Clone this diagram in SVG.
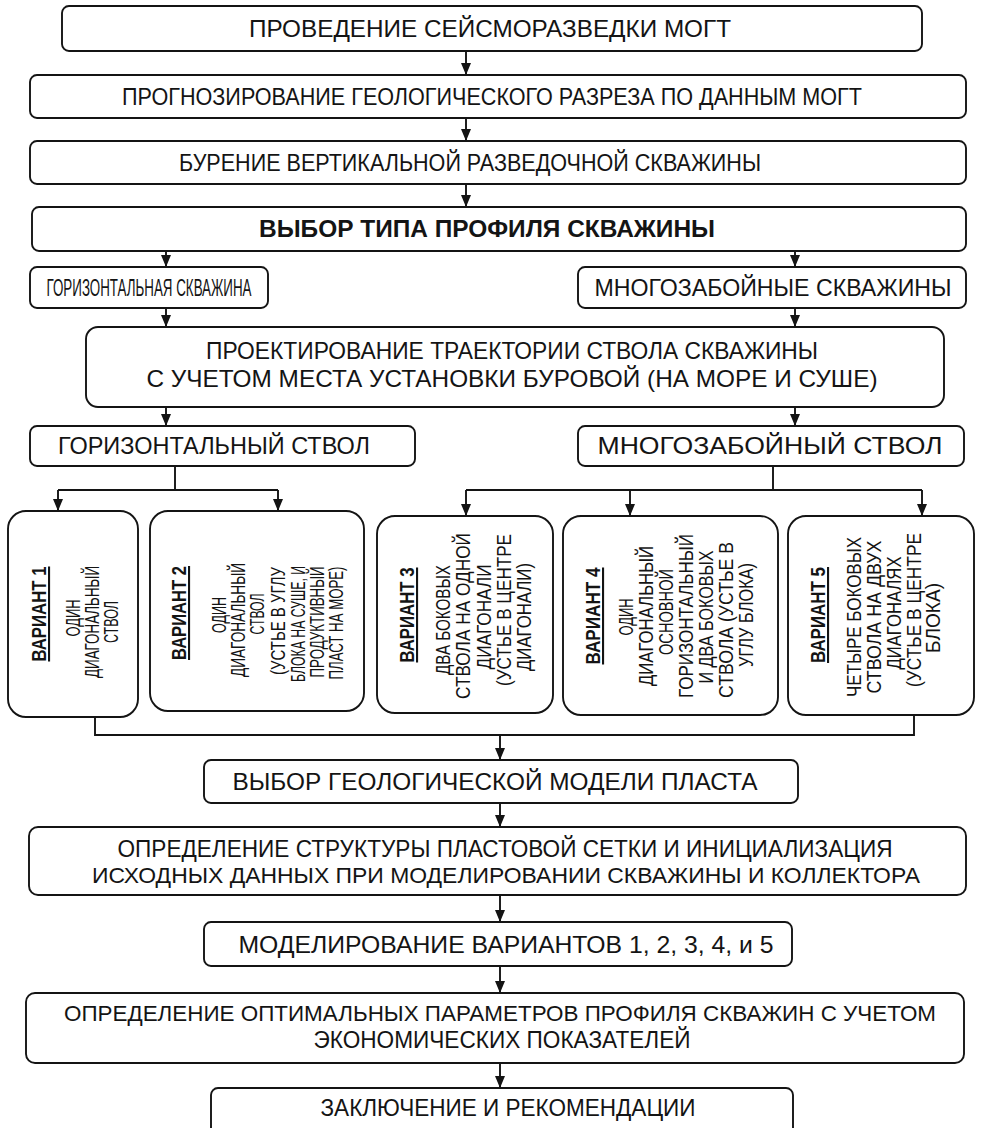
<svg xmlns="http://www.w3.org/2000/svg" width="983" height="1128" viewBox="0 0 983 1128">
<style>
.box{fill:#fff;stroke:#141414;stroke-width:1.9}
.ln{fill:none;stroke:#141414;stroke-width:1.9}
.ar{fill:none;stroke:#141414;stroke-width:1.9;marker-end:url(#ah)}
text{font-family:"Liberation Sans",Arial,sans-serif;fill:#141414;text-anchor:middle}
.t{font-size:24px}
.s{font-size:22px}
.v{font-size:21px}
.b{font-weight:bold}
.u{font-weight:bold;text-decoration:underline}
</style>
<defs>
<marker id="ah" viewBox="0 0 12 10" refX="12" refY="5" markerWidth="12" markerHeight="10" markerUnits="userSpaceOnUse" orient="auto">
<path d="M0,0 L12,5 L0,10 z" fill="#141414"/>
</marker>
</defs>
<rect width="983" height="1128" fill="#fff"/>

<g id="connectors">
<line class="ar" x1="466" y1="51" x2="466" y2="75"/>
<line class="ar" x1="466" y1="118" x2="466" y2="141"/>
<line class="ar" x1="466" y1="184" x2="466" y2="207"/>
<line class="ar" x1="166" y1="251" x2="166" y2="267"/>
<line class="ar" x1="795" y1="251" x2="795" y2="267"/>
<line class="ar" x1="166" y1="308" x2="166" y2="327"/>
<line class="ar" x1="795" y1="308" x2="795" y2="327"/>
<line class="ar" x1="166" y1="407" x2="166" y2="426"/>
<line class="ar" x1="795" y1="407" x2="795" y2="426"/>
<polyline class="ln" points="175,466 175,490"/>
<polyline class="ln" points="58,490 278,490"/>
<line class="ar" x1="58" y1="490" x2="58" y2="511"/>
<line class="ar" x1="278" y1="490" x2="278" y2="511"/>
<polyline class="ln" points="773,466 773,490"/>
<polyline class="ln" points="466,490 922,490"/>
<line class="ar" x1="466" y1="490" x2="466" y2="516"/>
<line class="ar" x1="630" y1="490" x2="630" y2="516"/>
<line class="ar" x1="922" y1="490" x2="922" y2="516"/>
<polyline class="ln" points="95,717 95,735 914,735 914,715"/>
<line class="ar" x1="500" y1="735" x2="500" y2="760"/>
<line class="ar" x1="500" y1="803" x2="500" y2="827"/>
<line class="ar" x1="500" y1="895" x2="500" y2="922"/>
<line class="ar" x1="500" y1="966" x2="500" y2="993"/>
<line class="ar" x1="500" y1="1063" x2="500" y2="1088"/>
</g>

<g id="n1"><rect class="box" x="62" y="6" width="860" height="45" rx="7"/>
<text class="t" x="490" y="37" textLength="482" lengthAdjust="spacingAndGlyphs">ПРОВЕДЕНИЕ СЕЙСМОРАЗВЕДКИ МОГТ</text></g>
<g id="n2"><rect class="box" x="30" y="75" width="936" height="43" rx="7"/>
<text class="t" x="492" y="105" textLength="740" lengthAdjust="spacingAndGlyphs">ПРОГНОЗИРОВАНИЕ ГЕОЛОГИЧЕСКОГО РАЗРЕЗА ПО ДАННЫМ МОГТ</text></g>
<g id="n3"><rect class="box" x="30" y="141" width="936" height="43" rx="7"/>
<text class="t" x="470" y="171" textLength="582" lengthAdjust="spacingAndGlyphs">БУРЕНИЕ ВЕРТИКАЛЬНОЙ РАЗВЕДОЧНОЙ СКВАЖИНЫ</text></g>
<g id="n4"><rect class="box" x="32" y="207" width="934" height="44" rx="7"/>
<text class="t b" x="487" y="237" textLength="456" lengthAdjust="spacingAndGlyphs">ВЫБОР ТИПА ПРОФИЛЯ СКВАЖИНЫ</text></g>
<g id="n5a"><rect class="box" x="30" y="267" width="238" height="41" rx="7"/>
<text class="t" x="149" y="296" textLength="205" lengthAdjust="spacingAndGlyphs">ГОРИЗОНТАЛЬНАЯ СКВАЖИНА</text></g>
<g id="n5b"><rect class="box" x="578" y="267" width="388" height="41" rx="7"/>
<text class="t" x="773" y="296" textLength="357" lengthAdjust="spacingAndGlyphs">МНОГОЗАБОЙНЫЕ СКВАЖИНЫ</text></g>
<g id="n6"><rect class="box" x="86" y="327" width="858" height="80" rx="12"/>
<text class="t" x="512" y="359" textLength="612" lengthAdjust="spacingAndGlyphs">ПРОЕКТИРОВАНИЕ ТРАЕКТОРИИ СТВОЛА СКВАЖИНЫ</text>
<text class="t" x="512" y="387" textLength="731" lengthAdjust="spacingAndGlyphs">С УЧЕТОМ МЕСТА УСТАНОВКИ БУРОВОЙ (НА МОРЕ И СУШЕ)</text></g>
<g id="n7a"><rect class="box" x="30" y="426" width="385" height="40" rx="7"/>
<text class="t" x="214" y="454" textLength="312" lengthAdjust="spacingAndGlyphs">ГОРИЗОНТАЛЬНЫЙ СТВОЛ</text></g>
<g id="n7b"><rect class="box" x="578" y="426" width="386" height="40" rx="7"/>
<text class="t" x="770" y="454" textLength="345" lengthAdjust="spacingAndGlyphs">МНОГОЗАБОЙНЫЙ СТВОЛ</text></g>

<g id="v1"><rect class="box" x="8" y="511" width="130" height="206" rx="18"/>
<text class="v u" transform="translate(46,614) rotate(-90)" textLength="95" lengthAdjust="spacingAndGlyphs">ВАРИАНТ 1</text>
<text class="v" transform="translate(80,618) rotate(-90)" textLength="37" lengthAdjust="spacingAndGlyphs">ОДИН</text>
<text class="v" transform="translate(99,622) rotate(-90)" textLength="112" lengthAdjust="spacingAndGlyphs">ДИАГОНАЛЬНЫЙ</text>
<text class="v" transform="translate(118,622) rotate(-90)" textLength="42" lengthAdjust="spacingAndGlyphs">СТВОЛ</text></g>

<g id="v2"><rect class="box" x="150" y="511" width="214" height="200" rx="18"/>
<text class="v u" transform="translate(186,613) rotate(-90)" textLength="94" lengthAdjust="spacingAndGlyphs">ВАРИАНТ 2</text>
<text class="v" transform="translate(226,615) rotate(-90)" textLength="36" lengthAdjust="spacingAndGlyphs">ОДИН</text>
<text class="v" transform="translate(245,620) rotate(-90)" textLength="114" lengthAdjust="spacingAndGlyphs">ДИАГОНАЛЬНЫЙ</text>
<text class="v" transform="translate(264,614) rotate(-90)" textLength="41" lengthAdjust="spacingAndGlyphs">СТВОЛ</text>
<text class="v" transform="translate(285,621) rotate(-90)" textLength="108" lengthAdjust="spacingAndGlyphs">(УСТЬЕ В УГЛУ</text>
<text class="v" transform="translate(305,624) rotate(-90)" textLength="116" lengthAdjust="spacingAndGlyphs">БЛОКА НА СУШЕ, И</text>
<text class="v" transform="translate(324,622) rotate(-90)" textLength="111" lengthAdjust="spacingAndGlyphs">ПРОДУКТИВНЫЙ</text>
<text class="v" transform="translate(343,623) rotate(-90)" textLength="113" lengthAdjust="spacingAndGlyphs">ПЛАСТ НА МОРЕ)</text></g>

<g id="v3"><rect class="box" x="377" y="516" width="176" height="197" rx="18"/>
<text class="v u" transform="translate(414,615) rotate(-90)" textLength="95" lengthAdjust="spacingAndGlyphs">ВАРИАНТ 3</text>
<text class="v" transform="translate(450,620) rotate(-90)" textLength="110" lengthAdjust="spacingAndGlyphs">ДВА БОКОВЫХ</text>
<text class="v" transform="translate(470,616) rotate(-90)" textLength="166" lengthAdjust="spacingAndGlyphs">СТВОЛА НА ОДНОЙ</text>
<text class="v" transform="translate(491,617) rotate(-90)" textLength="105" lengthAdjust="spacingAndGlyphs">ДИАГОНАЛИ</text>
<text class="v" transform="translate(511,610) rotate(-90)" textLength="152" lengthAdjust="spacingAndGlyphs">(УСТЬЕ В ЦЕНТРЕ</text>
<text class="v" transform="translate(531,617) rotate(-90)" textLength="108" lengthAdjust="spacingAndGlyphs">ДИАГОНАЛИ)</text></g>

<g id="v4"><rect class="box" x="563" y="516" width="215" height="199" rx="18"/>
<text class="v u" transform="translate(600,616) rotate(-90)" textLength="97" lengthAdjust="spacingAndGlyphs">ВАРИАНТ 4</text>
<text class="v" transform="translate(633,617) rotate(-90)" textLength="37" lengthAdjust="spacingAndGlyphs">ОДИН</text>
<text class="v" transform="translate(653,616) rotate(-90)" textLength="140" lengthAdjust="spacingAndGlyphs">ДИАГОНАЛЬНЫЙ</text>
<text class="v" transform="translate(673,612) rotate(-90)" textLength="86" lengthAdjust="spacingAndGlyphs">ОСНОВНОЙ</text>
<text class="v" transform="translate(693,616) rotate(-90)" textLength="164" lengthAdjust="spacingAndGlyphs">ГОРИЗОНТАЛЬНЫЙ</text>
<text class="v" transform="translate(713,617) rotate(-90)" textLength="133" lengthAdjust="spacingAndGlyphs">И ДВА БОКОВЫХ</text>
<text class="v" transform="translate(733,620) rotate(-90)" textLength="156" lengthAdjust="spacingAndGlyphs">СТВОЛА (УСТЬЕ В</text>
<text class="v" transform="translate(753,615) rotate(-90)" textLength="104" lengthAdjust="spacingAndGlyphs">УГЛУ БЛОКА)</text></g>

<g id="v5"><rect class="box" x="788" y="516" width="186" height="199" rx="18"/>
<text class="v u" transform="translate(825,615) rotate(-90)" textLength="96" lengthAdjust="spacingAndGlyphs">ВАРИАНТ 5</text>
<text class="v" transform="translate(861,617) rotate(-90)" textLength="160" lengthAdjust="spacingAndGlyphs">ЧЕТЫРЕ БОКОВЫХ</text>
<text class="v" transform="translate(881,617) rotate(-90)" textLength="153" lengthAdjust="spacingAndGlyphs">СТВОЛА НА ДВУХ</text>
<text class="v" transform="translate(901,613) rotate(-90)" textLength="113" lengthAdjust="spacingAndGlyphs">ДИАГОНАЛЯХ</text>
<text class="v" transform="translate(921,610) rotate(-90)" textLength="154" lengthAdjust="spacingAndGlyphs">(УСТЬЕ В ЦЕНТРЕ</text>
<text class="v" transform="translate(940,618) rotate(-90)" textLength="70" lengthAdjust="spacingAndGlyphs">БЛОКА)</text></g>

<g id="n8"><rect class="box" x="204" y="760" width="594" height="43" rx="7"/>
<text class="t" x="495" y="790" textLength="525" lengthAdjust="spacingAndGlyphs">ВЫБОР ГЕОЛОГИЧЕСКОЙ МОДЕЛИ ПЛАСТА</text></g>
<g id="n9"><rect class="box" x="29" y="827" width="937" height="68" rx="9"/>
<text class="t" x="505" y="857" textLength="775" lengthAdjust="spacingAndGlyphs">ОПРЕДЕЛЕНИЕ СТРУКТУРЫ ПЛАСТОВОЙ СЕТКИ И ИНИЦИАЛИЗАЦИЯ</text>
<text class="s" x="506" y="883" textLength="828" lengthAdjust="spacingAndGlyphs">ИСХОДНЫХ ДАННЫХ ПРИ МОДЕЛИРОВАНИИ СКВАЖИНЫ И КОЛЛЕКТОРА</text></g>
<g id="n10"><rect class="box" x="204" y="922" width="588" height="44" rx="7"/>
<text class="t" x="506" y="953" textLength="535" lengthAdjust="spacingAndGlyphs">МОДЕЛИРОВАНИЕ ВАРИАНТОВ 1, 2, 3, 4, и 5</text></g>
<g id="n11"><rect class="box" x="26" y="993" width="938" height="70" rx="9"/>
<text class="s" x="500" y="1021" textLength="872" lengthAdjust="spacingAndGlyphs">ОПРЕДЕЛЕНИЕ ОПТИМАЛЬНЫХ ПАРАМЕТРОВ ПРОФИЛЯ СКВАЖИН С УЧЕТОМ</text>
<text class="t" x="502" y="1048" textLength="377" lengthAdjust="spacingAndGlyphs">ЭКОНОМИЧЕСКИХ ПОКАЗАТЕЛЕЙ</text></g>
<g id="n12"><rect class="box" x="211" y="1088" width="582" height="60" rx="7"/>
<text class="t" x="508" y="1116" textLength="375" lengthAdjust="spacingAndGlyphs">ЗАКЛЮЧЕНИЕ И РЕКОМЕНДАЦИИ</text></g>
</svg>
